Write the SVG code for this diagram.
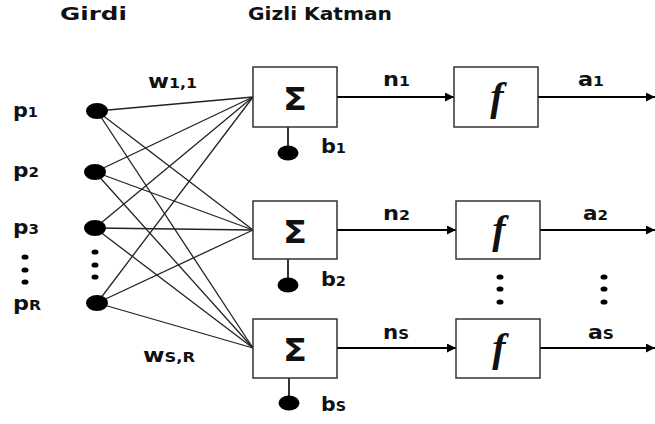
<svg xmlns="http://www.w3.org/2000/svg" width="655" height="424" viewBox="0 0 655 424">
<style>
text{font-family:"DejaVu Sans","Verdana",sans-serif;font-weight:bold;fill:#111}
.h{font-size:18px}
.l{font-size:20px}
.s{font-size:14px}
.box{fill:#fff;stroke:#333;stroke-width:1.5}
.w{stroke:#222;stroke-width:1.3;fill:none}
.ar{stroke:#000;stroke-width:2;fill:none}
.sig{font-size:31px;text-anchor:middle}
.fx{font-family:"Liberation Serif","Times New Roman",serif;font-style:italic;font-weight:bold;font-size:40px;text-anchor:middle}
.dot{fill:#000}
</style>
<defs>
<marker id="ah" viewBox="0 0 10 10" refX="10" refY="5" markerWidth="5" markerHeight="4.5" markerUnits="strokeWidth" orient="auto">
<path d="M0,0 L10,5 L0,10 z" fill="#000"/>
</marker>
</defs>
<rect width="655" height="424" fill="#fff"/>
<text class="h" x="60" y="20" textLength="67" lengthAdjust="spacingAndGlyphs">Girdi</text>
<text class="h" x="248" y="20" textLength="144" lengthAdjust="spacingAndGlyphs">Gizli Katman</text>
<g id="connectors">
<line class="w" x1="97" y1="111" x2="253" y2="97"/>
<line class="w" x1="97" y1="111" x2="253" y2="230"/>
<line class="w" x1="97" y1="111" x2="253" y2="348"/>
<line class="w" x1="95" y1="172" x2="253" y2="97"/>
<line class="w" x1="95" y1="172" x2="253" y2="230"/>
<line class="w" x1="95" y1="172" x2="253" y2="348"/>
<line class="w" x1="95" y1="228" x2="253" y2="97"/>
<line class="w" x1="95" y1="228" x2="253" y2="230"/>
<line class="w" x1="95" y1="228" x2="253" y2="348"/>
<line class="w" x1="97" y1="303" x2="253" y2="97"/>
<line class="w" x1="97" y1="303" x2="253" y2="230"/>
<line class="w" x1="97" y1="303" x2="253" y2="348"/>
<line class="ar" x1="337" y1="97" x2="454" y2="97" marker-end="url(#ah)"/>
<line class="ar" x1="337" y1="230" x2="456" y2="230" marker-end="url(#ah)"/>
<line class="ar" x1="337" y1="348" x2="456" y2="348" marker-end="url(#ah)"/>
<line class="ar" x1="538" y1="97" x2="655" y2="97" marker-end="url(#ah)"/>
<line class="ar" x1="540" y1="230" x2="655" y2="230" marker-end="url(#ah)"/>
<line class="ar" x1="540" y1="348" x2="655" y2="348" marker-end="url(#ah)"/>
<line class="ar" x1="288" y1="127" x2="288" y2="150" style="stroke-width:1.6"/>
<line class="ar" x1="288" y1="259" x2="288" y2="282" style="stroke-width:1.6"/>
<line class="ar" x1="289" y1="378" x2="289" y2="400" style="stroke-width:1.6"/>
</g>
<g id="labels">
<text class="l" x="148" y="88" textLength="49" lengthAdjust="spacingAndGlyphs">w<tspan class="s">1,1</tspan></text>
<text class="l" x="143" y="362" textLength="52" lengthAdjust="spacingAndGlyphs">w<tspan class="s">S,R</tspan></text>
<text class="l" x="383" y="86" textLength="27" lengthAdjust="spacingAndGlyphs">n<tspan class="s">1</tspan></text>
<text class="l" x="383" y="220" textLength="27" lengthAdjust="spacingAndGlyphs">n<tspan class="s">2</tspan></text>
<text class="l" x="383" y="339" textLength="26" lengthAdjust="spacingAndGlyphs">n<tspan class="s">S</tspan></text>
<text class="l" x="578" y="86" textLength="26" lengthAdjust="spacingAndGlyphs">a<tspan class="s">1</tspan></text>
<text class="l" x="583" y="220" textLength="25" lengthAdjust="spacingAndGlyphs">a<tspan class="s">2</tspan></text>
<text class="l" x="588" y="339" textLength="26" lengthAdjust="spacingAndGlyphs">a<tspan class="s">S</tspan></text>
</g>
<g id="input-p1"><ellipse cx="97" cy="111" rx="11" ry="8" class="dot"/><text class="l" x="13" y="117" textLength="25" lengthAdjust="spacingAndGlyphs">p<tspan class="s">1</tspan></text></g>
<g id="input-p2"><ellipse cx="95" cy="172" rx="11" ry="8" class="dot"/><text class="l" x="13" y="177" textLength="26" lengthAdjust="spacingAndGlyphs">p<tspan class="s">2</tspan></text></g>
<g id="input-p3"><ellipse cx="95" cy="228" rx="11" ry="8" class="dot"/><text class="l" x="13" y="234" textLength="26" lengthAdjust="spacingAndGlyphs">p<tspan class="s">3</tspan></text></g>
<g id="input-dots">
<ellipse cx="25" cy="257" rx="3.5" ry="2.6" class="dot"/><ellipse cx="25" cy="270" rx="3.5" ry="2.6" class="dot"/><ellipse cx="25" cy="282" rx="3.5" ry="2.6" class="dot"/>
<ellipse cx="95" cy="252" rx="3.5" ry="2.6" class="dot"/><ellipse cx="95" cy="265" rx="3.5" ry="2.6" class="dot"/><ellipse cx="95" cy="277" rx="3.5" ry="2.6" class="dot"/>
</g>
<g id="input-pR"><ellipse cx="97" cy="303" rx="11" ry="8" class="dot"/><text class="l" x="13" y="310" textLength="28" lengthAdjust="spacingAndGlyphs">p<tspan class="s">R</tspan></text></g>
<g id="sum1"><rect class="box" x="253" y="67" width="84" height="60"/><text class="sig" x="295" y="110" textLength="24" lengthAdjust="spacingAndGlyphs">Σ</text></g>
<g id="sum2"><rect class="box" x="253" y="201" width="84" height="58"/><text class="sig" x="295" y="243" textLength="24" lengthAdjust="spacingAndGlyphs">Σ</text></g>
<g id="sum3"><rect class="box" x="253" y="319" width="84" height="59"/><text class="sig" x="295" y="361" textLength="24" lengthAdjust="spacingAndGlyphs">Σ</text></g>
<g id="bias1"><ellipse cx="288" cy="153" rx="10.5" ry="7.5" class="dot"/><text class="l" x="321" y="153" textLength="25" lengthAdjust="spacingAndGlyphs">b<tspan class="s">1</tspan></text></g>
<g id="bias2"><ellipse cx="288" cy="285" rx="10.5" ry="7.5" class="dot"/><text class="l" x="321" y="286" textLength="25" lengthAdjust="spacingAndGlyphs">b<tspan class="s">2</tspan></text></g>
<g id="biasS"><ellipse cx="289" cy="403" rx="10.5" ry="7.5" class="dot"/><text class="l" x="321" y="411" textLength="25" lengthAdjust="spacingAndGlyphs">b<tspan class="s">S</tspan></text></g>
<g id="f1"><rect class="box" x="454" y="67" width="84" height="60"/><text class="fx" x="497" y="110">f</text></g>
<g id="f2"><rect class="box" x="456" y="201" width="84" height="58"/><text class="fx" x="499" y="243">f</text></g>
<g id="f3"><rect class="box" x="456" y="319" width="84" height="59"/><text class="fx" x="499" y="361">f</text></g>
<g id="output-dots">
<ellipse cx="500" cy="277" rx="3.5" ry="2.6" class="dot"/><ellipse cx="500" cy="289" rx="3.5" ry="2.6" class="dot"/><ellipse cx="500" cy="302" rx="3.5" ry="2.6" class="dot"/>
<ellipse cx="604" cy="277" rx="3.5" ry="2.6" class="dot"/><ellipse cx="604" cy="289" rx="3.5" ry="2.6" class="dot"/><ellipse cx="604" cy="302" rx="3.5" ry="2.6" class="dot"/>
</g>
</svg>
